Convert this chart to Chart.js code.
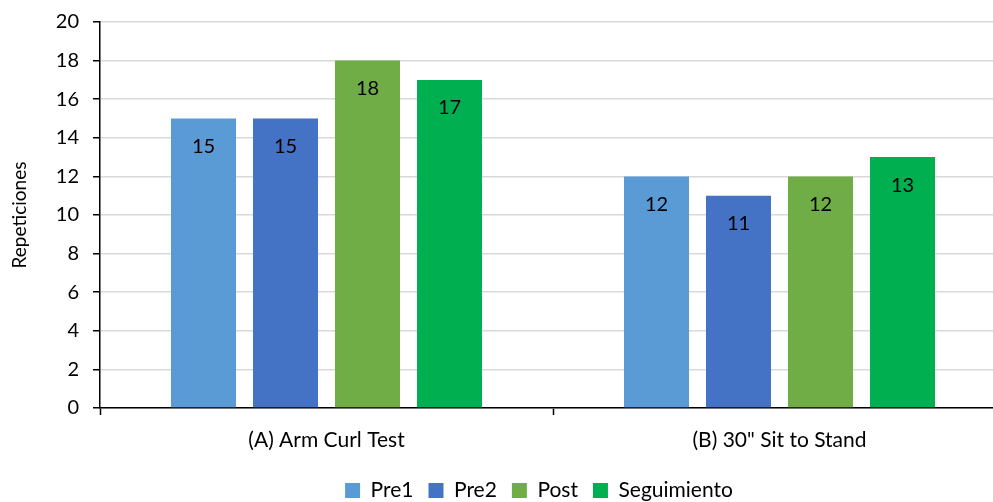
<!DOCTYPE html>
<html>
<head>
<meta charset="utf-8">
<script src="https://cdn.jsdelivr.net/npm/chart.js@4"></script>
<style>
  html, body { margin: 0; padding: 0; background: #fff; overflow: hidden; }
  #wrap { width: 1010px; height: 502px; }
</style>
</head>
<body>
<div id="wrap"><canvas id="c" width="1010" height="502"></canvas></div>
<script>
const categories = ['(A) Arm Curl Test', '(B) 30" Sit to Stand'];
const seriesNames = ['Pre1', 'Pre2', 'Post', 'Seguimiento'];
const pre1 = [15, 12];
const pre2 = [15, 11];
const post = [18, 12];
const seguimiento = [17, 13];
const seriesColors = ['#5B9BD5', '#4472C4', '#70AD47', '#00B050'];
const yTicks = [0, 2, 4, 6, 8, 10, 12, 14, 16, 18, 20];

const FONT = 'Lato, "Open Sans", sans-serif';

// Value labels drawn inside the top of each bar
const valueLabels = {
  id: 'valueLabels',
  afterDatasetsDraw(chart) {
    const ctx = chart.ctx;
    ctx.save();
    ctx.font = '20px ' + FONT;
    ctx.fillStyle = '#000';
    ctx.textAlign = 'center';
    ctx.textBaseline = 'middle';
    chart.data.datasets.forEach((ds, i) => {
      chart.getDatasetMeta(i).data.forEach((bar, j) => {
        ctx.fillText(String(ds.data[j]), bar.x, bar.y + 28);
      });
    });
    ctx.restore();
  }
};

// Nudge the legend block slightly right and down
const legendOffset = {
  id: 'legendOffset',
  afterLayout(chart) {
    const lg = chart.legend;
    if (!lg) return;
    lg.left += 36; lg.right += 36;
    lg.top += 9; lg.bottom += 9;
  }
};

const allSeries = [pre1, pre2, post, seguimiento];

new Chart(document.getElementById('c'), {
  type: 'bar',
  data: {
    labels: categories,
    datasets: seriesNames.map((name, i) => ({
      label: name,
      data: allSeries[i],
      backgroundColor: seriesColors[i],
      borderWidth: 0,
      categoryPercentage: 0.724,
      barPercentage: 0.793
    }))
  },
  options: {
    responsive: false,
    animation: false,
    layout: { padding: { top: 22, left: 0, right: 4, bottom: 0 } },
    plugins: {
      legend: {
        position: 'bottom',
        labels: {
          font: { family: FONT, size: 21 },
          color: '#000',
          boxWidth: 15,
          boxHeight: 15,
          padding: 15
        }
      },
      tooltip: { enabled: false }
    },
    scales: {
      x: {
        grid: {
          display: true,
          drawOnChartArea: false,
          offset: true,
          tickColor: '#000',
          tickLength: 7,
          tickWidth: 1.5
        },
        border: { color: '#000', width: 1.5 },
        ticks: {
          font: { family: FONT, size: 21 },
          color: '#000',
          padding: 13
        },
        afterFit(scale) { scale.height = 48; }
      },
      y: {
        min: 0,
        max: 20,
        afterBuildTicks(scale) { scale.ticks = yTicks.map(v => ({ value: v })); },
        grid: {
          color: '#d9d9d9',
          lineWidth: 1.5,
          tickColor: '#000',
          tickLength: 7,
          tickWidth: 1.5
        },
        border: { color: '#000', width: 1.5 },
        ticks: {
          font: { family: FONT, size: 20 },
          color: '#000',
          padding: 14
        },
        title: {
          display: true,
          text: 'Repeticiones',
          font: { family: FONT, size: 19 },
          color: '#000',
          padding: { top: 8, bottom: 15 }
        },
        afterFit(scale) {
          scale.width = 100;
          scale.paddingTop = 0;
          scale.paddingBottom = 0;
        }
      }
    }
  },
  plugins: [valueLabels, legendOffset]
});
</script>
</body>
</html>
